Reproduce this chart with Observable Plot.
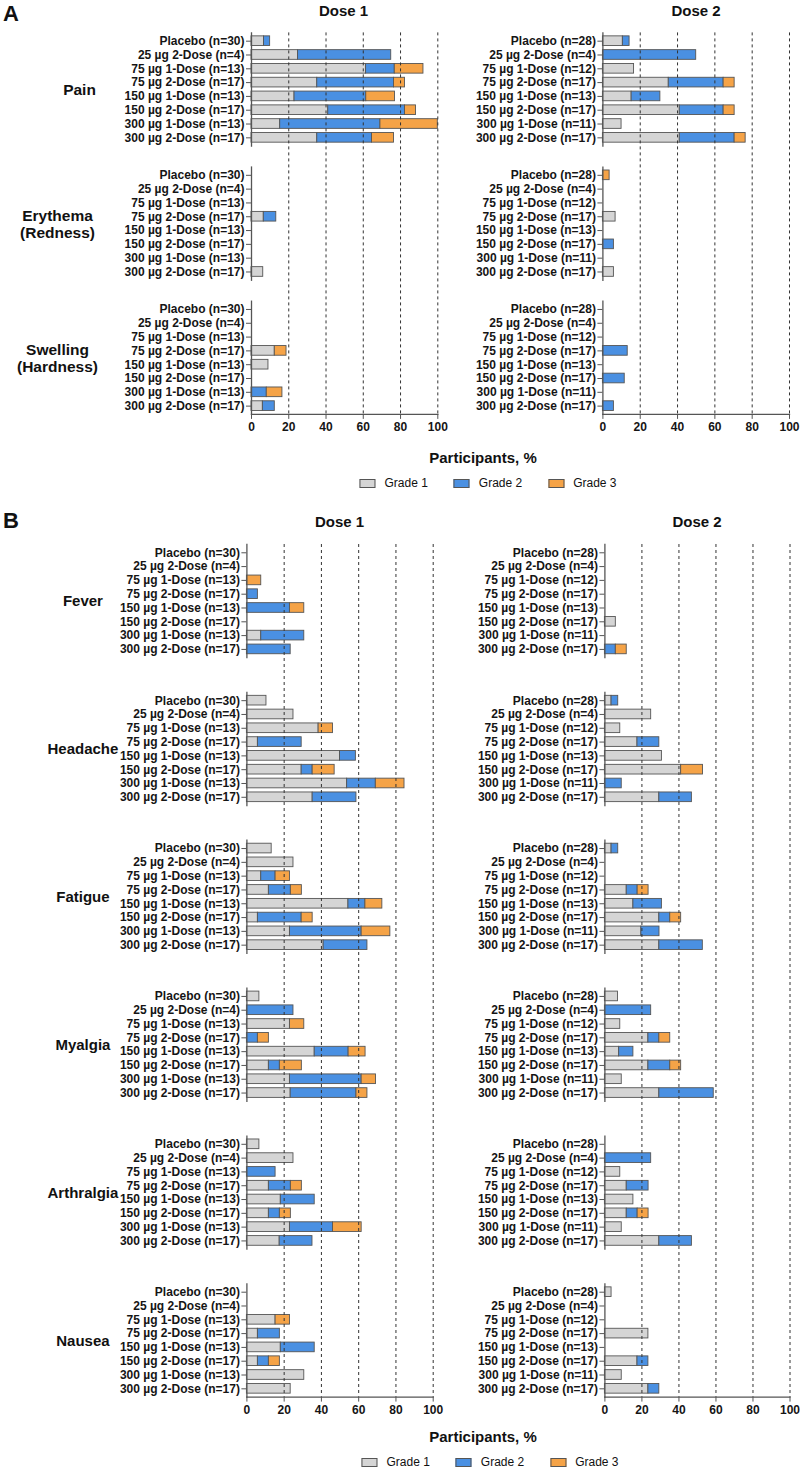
<!DOCTYPE html>
<html><head><meta charset="utf-8">
<script src="https://cdn.jsdelivr.net/npm/d3@7"></script>
<script src="https://cdn.jsdelivr.net/npm/@observablehq/plot@0.6"></script>
<style>
body{margin:0;background:#fff;font-family:"Liberation Sans",Arial,sans-serif;color:#111;}
#root{position:relative;width:800px;height:1471px;overflow:hidden;background:#fff;}
.abs{position:absolute;white-space:nowrap;}
.panel{font-weight:bold;font-size:22px;transform:translate(0,-50%);}
.dose{font-weight:bold;font-size:15px;transform:translate(-50%,-50%);}
.xtitle{font-weight:bold;font-size:15px;transform:translate(-50%,-50%);}
.legend{display:flex;align-items:center;transform:translate(-50%,-50%);font-size:12px;}
.sw{width:16px;height:9px;border:1px solid #555;margin-right:9px;box-sizing:border-box;}
.item{display:flex;align-items:center;margin:0 13px;}
svg{position:absolute;overflow:visible;}
svg.overlay{pointer-events:none;}
</style></head><body><div id="root"></div>
<script>
// ---------- data ----------
const groups = ["Placebo", "25 µg 2-Dose", "75 µg 1-Dose", "75 µg 2-Dose", "150 µg 1-Dose", "150 µg 2-Dose", "300 µg 1-Dose", "300 µg 2-Dose"];
const nDose1 = [30, 4, 13, 17, 13, 17, 13, 17];
const nDose2 = [28, 4, 12, 17, 13, 17, 11, 17];
const grades = ["Grade 1", "Grade 2", "Grade 3"];
const gradeColors = ["#d5d5d5", "#4a90e2", "#f5a347"];
const localReactions = ["Pain", "Erythema (Redness)", "Swelling (Hardness)"];
const systemicEvents = ["Fever", "Headache", "Fatigue", "Myalgia", "Arthralgia", "Nausea"];
const xTicks = [0, 20, 40, 60, 80, 100];
const gridTicks = [20, 40, 60, 80, 100];

// each: [Grade 1 %, Grade 2 %, Grade 3 %] per group (order of `groups`)
const painDose1 = [[6.7, 25, 61.5, 35.3, 23.1, 41.2, 15.4, 35.3], [3.3, 50, 15.4, 41.2, 38.5, 41.2, 53.8, 29.4], [0, 0, 15.4, 5.9, 15.4, 5.9, 30.8, 11.8]];
const painDose2 = [[10.7, 0, 16.7, 35.3, 15.4, 41.2, 10, 41.2], [3.6, 50, 0, 29.4, 15.4, 23.5, 0, 29.4], [0, 0, 0, 5.9, 0, 5.9, 0, 5.9]];
const erythemaDose1 = [[0, 0, 0, 6.6, 0, 0, 0, 6.3], [0, 0, 0, 6.7, 0, 0, 0, 0], [0, 0, 0, 0, 0, 0, 0, 0]];
const erythemaDose2 = [[0, 0, 0, 6.8, 0, 0, 0, 5.9], [0, 0, 0, 0, 0, 5.9, 0, 0], [3.6, 0, 0, 0, 0, 0, 0, 0]];
const swellingDose1 = [[0, 0, 0, 12.5, 9.1, 0, 0, 6.1], [0, 0, 0, 0, 0, 0, 8.2, 6.4], [0, 0, 0, 6.3, 0, 0, 8.4, 0]];
const swellingDose2 = [[0, 0, 0, 0, 0, 0, 0, 0], [0, 0, 0, 13.3, 0, 11.7, 0, 5.9], [0, 0, 0, 0, 0, 0, 0, 0]];

const feverDose1 = [[0, 0, 0, 0, 0, 0, 7.7, 0], [0, 0, 0, 5.9, 23.1, 0, 23.1, 23.5], [0, 0, 7.7, 0, 7.7, 0, 0, 0]];
const feverDose2 = [[0, 0, 0, 0, 0, 5.9, 0, 0], [0, 0, 0, 0, 0, 0, 0, 5.9], [0, 0, 0, 0, 0, 0, 0, 5.9]];
const headacheDose1 = [[10.5, 25, 38.5, 5.9, 50, 29.4, 53.8, 35.3], [0, 0, 0, 23.5, 8.5, 5.9, 15.4, 23.5], [0, 0, 7.7, 0, 0, 11.8, 15.4, 0]];
const headacheDose2 = [[3.6, 25, 8.3, 17.6, 30.8, 41.2, 0, 29.4], [3.6, 0, 0, 11.8, 0, 0, 9.1, 17.6], [0, 0, 0, 0, 0, 11.8, 0, 0]];
const fatigueDose1 = [[13.3, 25, 7.7, 11.8, 54.5, 5.9, 23.1, 41.2], [0, 0, 7.7, 11.8, 9.1, 23.5, 38.5, 23.5], [0, 0, 7.7, 5.9, 9.1, 5.9, 15.4, 0]];
const fatigueDose2 = [[3.6, 0, 0, 11.8, 15.4, 29.4, 19.7, 29.4], [3.6, 0, 0, 5.9, 15.4, 5.9, 9.8, 23.5], [0, 0, 0, 5.9, 0, 5.9, 0, 0]];
const myalgiaDose1 = [[6.7, 0, 23.1, 0, 36.4, 11.8, 23.1, 23.5], [0, 25, 0, 5.9, 18.2, 5.9, 38.5, 35.3], [0, 0, 7.7, 5.9, 9.1, 11.8, 7.7, 5.9]];
const myalgiaDose2 = [[7.1, 0, 8.3, 23.5, 7.7, 23.5, 9.1, 29.4], [0, 25, 0, 5.9, 7.7, 11.8, 0, 29.4], [0, 0, 0, 5.9, 0, 5.9, 0, 0]];
const arthralgiaDose1 = [[6.7, 25, 0, 11.8, 18.2, 11.8, 23.1, 17.6], [0, 0, 15.4, 11.8, 18.2, 5.9, 23.1, 17.6], [0, 0, 0, 5.9, 0, 5.9, 15.4, 0]];
const arthralgiaDose2 = [[0, 0, 8.3, 11.8, 15.4, 11.8, 9.1, 29.4], [0, 25, 0, 11.8, 0, 5.9, 0, 17.6], [0, 0, 0, 0, 0, 5.9, 0, 0]];
const nauseaDose1 = [[0, 0, 15.4, 5.9, 18.2, 5.9, 30.8, 23.5], [0, 0, 0, 11.8, 18.2, 5.9, 0, 0], [0, 0, 7.7, 0, 0, 5.9, 0, 0]];
const nauseaDose2 = [[3.6, 0, 0, 23.5, 0, 17.6, 9.1, 23.5], [0, 0, 0, 0, 0, 5.9, 0, 5.9], [0, 0, 0, 0, 0, 0, 0, 0]];

// ---------- build tables ----------
function buildRows(sections, series, ns) {
  const rows = [];
  sections.forEach((s, si) => {
    groups.forEach((g, gi) => {
      grades.forEach((gr, k) => {
        const v = series[si][k][gi];
        if (v > 0) rows.push({section: s, label: `${g} (n=${ns[gi]})`, grade: gr, value: v});
      });
    });
  });
  return rows;
}
const splitLabel = s => s.replace(" (", "\n(");

const root = document.getElementById("root");
const font = '"Liberation Sans", Arial, sans-serif';

function place(svg, cfg, cls) {
  svg.style.left = cfg.left + "px";
  svg.style.top = cfg.top + "px";
  if (cls) svg.classList.add(cls);
  root.appendChild(svg);
}

function columnPlot(cfg) {
  const labels = groups.map((g, i) => `${g} (n=${cfg.ns[i]})`);
  const dims = {width: cfg.width, height: cfg.height, marginLeft: cfg.marginLeft, marginRight: cfg.marginRight,
    marginTop: cfg.marginTop, marginBottom: cfg.marginBottom};
  const style = {fontFamily: font, fontSize: "12px", background: "transparent", overflow: "visible"};
  const marks = [
    Plot.barX(cfg.rows, {x: "value", y: "label", fy: "section", fill: "grade", stroke: "#555", strokeWidth: 0.9}),
    Plot.frame({anchor: "left", stroke: "#555", strokeWidth: 1.3}),
    Plot.axisY({label: null, tickSize: 5, tickPadding: 2, fontSize: 12, fontWeight: "bold", fill: "#151515", stroke: "#555"})
  ];
  if (cfg.sectionLabels) {
    cfg.sectionLabels.forEach(({filter, dx, size}) => {
      marks.push(Plot.text(cfg.sections.filter(filter), {fy: d => d, text: d => splitLabel(d), frameAnchor: "left", dx,
        fontSize: size, fontWeight: "bold", textAnchor: "middle", lineHeight: 1.1, fill: "#111"}));
    });
  }
  const main = Plot.plot({
    ...dims, style,
    x: {domain: [0, 100], label: null, axis: null},
    y: {domain: labels, label: null, paddingInner: 0.3, paddingOuter: 0.25, round: false},
    fy: {domain: cfg.sections, label: null, axis: null, paddingInner: cfg.fyPad, paddingOuter: 0, round: false},
    color: {domain: grades, range: gradeColors},
    marks
  });
  place(main, cfg);
  // overlay: continuous dashed gridlines, x axis line and ticks
  const over = Plot.plot({
    ...dims, style,
    x: {domain: [0, 100], label: null},
    marks: [
      Plot.ruleX(gridTicks, {stroke: "#333", strokeWidth: 1, strokeDasharray: "3,3"}),
      Plot.frame({anchor: "bottom", stroke: "#555", strokeWidth: 1.3}),
      Plot.axisX({ticks: xTicks, label: null, tickSize: 5, tickPadding: 3, fontSize: 12, fontWeight: "bold", fill: "#151515", stroke: "#555"})
    ]
  });
  place(over, cfg, "overlay");
}

const isMulti = d => d.includes("(");
// Panel A
columnPlot({sections: localReactions, ns: nDose1, rows: buildRows(localReactions, [painDose1, erythemaDose1, swellingDose1], nDose1),
  left: 0, top: 0, width: 450, height: 439, marginLeft: 251, marginRight: 12.7, marginTop: 32.4, marginBottom: 25.1, fyPad: 0.156,
  sectionLabels: [{filter: d => !isMulti(d), dx: -172, size: 15.5}, {filter: isMulti, dx: -194, size: 15.5}]});
columnPlot({sections: localReactions, ns: nDose2, rows: buildRows(localReactions, [painDose2, erythemaDose2, swellingDose2], nDose2),
  left: 450, top: 0, width: 350, height: 439, marginLeft: 152.4, marginRight: 11, marginTop: 32.4, marginBottom: 25.1, fyPad: 0.156});
// Panel B
const sysD1 = [feverDose1, headacheDose1, fatigueDose1, myalgiaDose1, arthralgiaDose1, nauseaDose1];
const sysD2 = [feverDose2, headacheDose2, fatigueDose2, myalgiaDose2, arthralgiaDose2, nauseaDose2];
columnPlot({sections: systemicEvents, ns: nDose1, rows: buildRows(systemicEvents, sysD1, nDose1),
  left: 0, top: 530, width: 450, height: 892, marginLeft: 246.4, marginRight: 17.3, marginTop: 14, marginBottom: 25.4, fyPad: 0.2346,
  sectionLabels: [{filter: d => true, dx: -164, size: 15}]});
columnPlot({sections: systemicEvents, ns: nDose2, rows: buildRows(systemicEvents, sysD2, nDose2),
  left: 450, top: 530, width: 350, height: 892, marginLeft: 154.4, marginRight: 10.5, marginTop: 14, marginBottom: 25.4, fyPad: 0.2346});

// ---------- titles, legends ----------
function addText(cls, text, x, y) {
  const d = document.createElement("div");
  d.className = "abs " + cls; d.textContent = text;
  d.style.left = x + "px"; d.style.top = y + "px";
  root.appendChild(d);
}
addText("panel", "A", 3, 14);
addText("panel", "B", 3, 521);
addText("dose", "Dose 1", 343.5, 10);
addText("dose", "Dose 2", 696, 10);
addText("dose", "Dose 1", 339.5, 520.5);
addText("dose", "Dose 2", 697, 520.5);
addText("xtitle", "Participants, %", 483, 457);
addText("xtitle", "Participants, %", 483, 1436);
function addLegend(x, y) {
  const d = document.createElement("div");
  d.className = "abs legend"; d.style.left = x + "px"; d.style.top = y + "px";
  grades.forEach((g, i) => {
    const it = document.createElement("div"); it.className = "item";
    const sw = document.createElement("div"); sw.className = "sw"; sw.style.background = gradeColors[i];
    const t = document.createElement("span"); t.textContent = g;
    it.appendChild(sw); it.appendChild(t); d.appendChild(it);
  });
  root.appendChild(d);
}
addLegend(488, 483);
addLegend(490, 1462);
</script></body></html>
